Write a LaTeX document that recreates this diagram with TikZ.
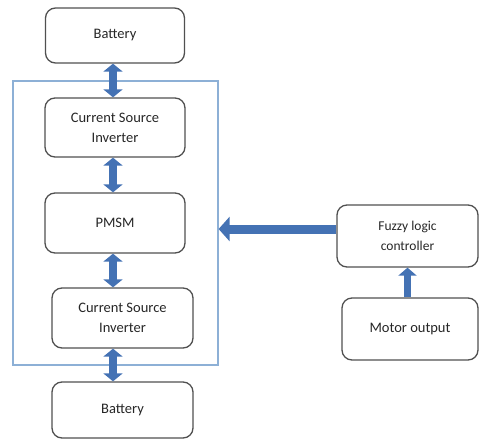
\documentclass[tikz,border=0pt]{standalone}
\usepackage{fontspec}
\setmainfont{Carlito}
\usetikzlibrary{arrows.meta,calc}
\definecolor{arrowblue}{HTML}{4472B4}
\definecolor{framblue}{HTML}{8DB0D6}
\definecolor{boxgray}{HTML}{505050}
\tikzset{
  blk/.style={draw=boxgray, line width=1.3pt, rounded corners=10pt, align=center,
    font=\fontsize{14.5}{20}\selectfont, text=black!85, inner sep=0pt},
  dblarrow/.style={draw=arrowblue, line width=8pt,
    {Triangle[width=19pt,length=8pt]}-{Triangle[width=19pt,length=8pt]}},
  onearrow/.style={draw=arrowblue, line width=9pt, -{Triangle[width=24pt,length=11pt]}},
}
\begin{document}
\begin{tikzpicture}[x=1pt,y=-1pt]
\useasboundingbox (0,0) rectangle (479,442);
% control unit frame
\node[draw=framblue, line width=1.2pt, minimum width=205pt, minimum height=284pt, inner sep=0pt] (frame) at (115.5,223) {};
% blocks
\node[blk, minimum width=139pt, minimum height=55pt] (bat1) at (115,35.5) {Battery};
\node[blk, minimum width=140pt, minimum height=59pt] (csi1) at (115,127.5) {Current Source\\Inverter};
\node[blk, minimum width=140pt, minimum height=60pt] (pmsm) at (115,223) {PMSM};
\node[blk, minimum width=141pt, minimum height=60pt] (csi2) at (122.5,318) {Current Source\\Inverter};
\node[blk, minimum width=141pt, minimum height=56pt] (bat2) at (122.5,410) {Battery};
\node[blk, minimum width=141pt, minimum height=62pt, font=\fontsize{13.5}{20}\selectfont] (fuzzy) at (407.5,236) {Fuzzy logic\\controller};
\node[blk, minimum width=136pt, minimum height=62pt] (motor) at (410,329) {Motor output};
% power flow
\draw[dblarrow] ([xshift=-2pt]bat1.south) -- ([xshift=-2pt]csi1.north);
\draw[dblarrow] ([xshift=-2pt]csi1.south) -- ([xshift=-2pt]pmsm.north);
\draw[dblarrow] ([xshift=-2pt]pmsm.south) -- ([xshift=-2pt]pmsm.south |- csi2.north);
\draw[dblarrow] ([xshift=-2pt]pmsm.south |- csi2.south) -- ([xshift=-2pt]pmsm.south |- bat2.north);
% control path
\draw[onearrow] ([yshift=7pt]fuzzy.west) -- ([yshift=7pt]fuzzy.west -| frame.east);
\draw[onearrow, line width=7pt, -{Triangle[width=18pt,length=8pt]}] (fuzzy.south |- motor.north) -- (fuzzy.south);
\end{tikzpicture}
\end{document}
